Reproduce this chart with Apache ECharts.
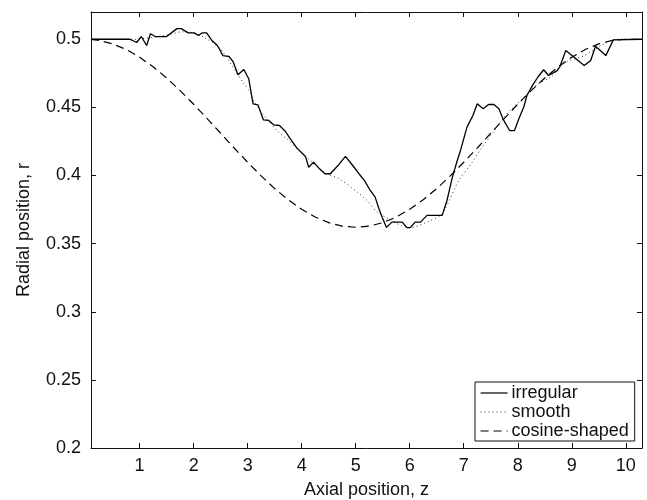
<!DOCTYPE html>
<html>
<head>
<meta charset="utf-8">
<title>Radial position vs axial position</title>
<script src="https://cdn.jsdelivr.net/npm/echarts@6/dist/echarts.min.js"></script>
<style>
  html, body { margin: 0; padding: 0; background: #fff; }
  #chart { width: 647px; height: 500px; }
</style>
</head>
<body>
<div id="chart"></div>
<script>
// Tick values for both axes
const xTicks = [1, 2, 3, 4, 5, 6, 7, 8, 9, 10];
const yTicks = [0.2, 0.25, 0.3, 0.35, 0.4, 0.45, 0.5];

// Irregular profile: axial position z and radius r
const zIrregular = [0.1, 0.82, 0.945, 1.03, 1.13, 1.2, 1.29, 1.5, 1.69, 1.77, 1.9, 2.01, 2.09, 2.16, 2.24,
  2.33, 2.42, 2.46, 2.54, 2.65, 2.73, 2.82, 2.93, 3.02, 3.10, 3.19, 3.29, 3.39, 3.48, 3.59, 3.70, 3.79,
  3.91, 4.07, 4.13, 4.22, 4.33, 4.43, 4.53, 4.69, 4.81, 4.96, 5.06, 5.16, 5.27, 5.36, 5.43, 5.49, 5.57,
  5.67, 5.86, 5.95, 6.01, 6.10, 6.20, 6.32, 6.60, 6.69, 6.79, 6.88, 6.94, 7.06, 7.17, 7.25, 7.36, 7.46,
  7.56, 7.65, 7.74, 7.85, 7.94, 8.02, 8.11, 8.17, 8.27, 8.37, 8.48, 8.57, 8.73, 8.78, 8.89, 9.23, 9.35,
  9.44, 9.63, 9.77, 10.3];
const rIrregular = [0.5, 0.5, 0.4976, 0.502, 0.4954, 0.504, 0.502, 0.502, 0.5078, 0.5078, 0.5047, 0.5047, 0.5027, 0.5047, 0.5047,
  0.4995, 0.4962, 0.4941, 0.488, 0.4875, 0.4836, 0.4739, 0.4778, 0.471, 0.4526, 0.4519, 0.4409, 0.4404, 0.4372, 0.4367, 0.4323, 0.4269,
  0.4203, 0.414, 0.4061, 0.4098, 0.4049, 0.4013, 0.4013, 0.4081, 0.414, 0.4066, 0.4013, 0.3964, 0.389, 0.3841, 0.3756, 0.3694, 0.3619,
  0.3658, 0.3658, 0.3617, 0.3617, 0.3658, 0.3658, 0.3707, 0.3707, 0.3817, 0.3988, 0.411, 0.4184, 0.4355, 0.444, 0.4526, 0.449, 0.4521,
  0.4521, 0.449, 0.4404, 0.433, 0.433, 0.4416, 0.4501, 0.4587, 0.466, 0.4721, 0.4776, 0.4734, 0.477, 0.480, 0.4917, 0.4807, 0.4844,
  0.4949, 0.488, 0.4996, 0.5];

// Smooth profile
const zSmooth = [0.1, 0.9, 1.2, 1.5, 1.8, 2.0, 2.19, 2.49, 2.71, 2.93, 3.05, 3.11, 3.33, 3.57, 3.76, 3.95, 4.16,
  4.41, 4.69, 5.03, 5.21, 5.40, 5.61, 5.83, 6.01, 6.32, 6.57, 6.66, 6.91, 7.16, 7.31, 7.55, 7.80, 8.05,
  8.20, 8.36, 8.60, 8.89, 9.23, 9.6, 9.84, 10.3];
const rSmooth = [0.5, 0.5, 0.5012, 0.503, 0.5055, 0.5045, 0.5015, 0.493, 0.4807, 0.4673, 0.461, 0.455, 0.4428, 0.4318, 0.4257, 0.418, 0.411,
  0.4025, 0.3976, 0.3878, 0.3817, 0.373, 0.3683, 0.3634, 0.3617, 0.3658, 0.3707, 0.3756, 0.3964, 0.4098, 0.419, 0.432, 0.4453, 0.455,
  0.4611, 0.4668, 0.4721, 0.4831, 0.488, 0.4966, 0.5, 0.5];

// Cosine-shaped profile
const zCosine = [0.1, 0.25, 0.5, 0.75, 1.0, 1.25, 1.5, 1.75, 2.0, 2.25, 2.5, 2.75, 3.0, 3.25, 3.5, 3.75, 4.0,
  4.25, 4.5, 4.75, 5.0, 5.25, 5.5, 5.75, 6.0, 6.25, 6.5, 6.75, 7.0, 7.25, 7.5, 7.75, 8.0, 8.25, 8.5,
  8.75, 9.0, 9.25, 9.5, 9.75, 10.0, 10.3];
const rCosine = [0.4999, 0.4992, 0.4966, 0.4925, 0.4868, 0.4798, 0.4716, 0.4623, 0.4523, 0.4418, 0.431, 0.4202, 0.4097, 0.3997, 0.3904, 0.3822, 0.3752,
  0.3695, 0.3654, 0.3628, 0.362, 0.3628, 0.3654, 0.3695, 0.3752, 0.3822, 0.3904, 0.3997, 0.4097, 0.4202, 0.431, 0.4418, 0.4523, 0.4623, 0.4716,
  0.4798, 0.4868, 0.4925, 0.4966, 0.4992, 0.5, 0.5];

const pairs = (xs, ys) => xs.map((x, i) => [x, ys[i]]);

const FONT = 'Liberation Sans, Arial, Helvetica, sans-serif';
const INK = '#111';

const chart = echarts.init(document.getElementById('chart'), null, { renderer: 'canvas' });

const xBase = {
  type: 'value', min: 0.1, max: 10.3,
  splitLine: { show: false },
  axisLine: { show: true, onZero: false, lineStyle: { color: INK, width: 1 } },
  axisTick: { show: true, inside: true, length: 5, customValues: xTicks, lineStyle: { color: INK, width: 1 } }
};
const yBase = {
  type: 'value', min: 0.2, max: 0.52,
  splitLine: { show: false },
  axisLine: { show: true, onZero: false, lineStyle: { color: INK, width: 1 } },
  axisTick: { show: true, inside: true, length: 5, customValues: yTicks, lineStyle: { color: INK, width: 1 } }
};

chart.setOption({
  animation: false,
  backgroundColor: '#fff',
  textStyle: { fontFamily: FONT },
  grid: { left: 91, right: 5, top: 12, bottom: 52, containLabel: false, outerBoundsMode: 'none' },
  xAxis: [
    Object.assign({}, xBase, {
      position: 'bottom',
      name: 'Axial position, z', nameLocation: 'middle', nameGap: 33,
      nameTextStyle: { color: INK, fontSize: 18, fontFamily: FONT },
      axisLabel: { show: true, customValues: xTicks, margin: 9, color: INK, fontSize: 18, fontFamily: FONT }
    }),
    Object.assign({}, xBase, { position: 'top', axisLabel: { show: false } })
  ],
  yAxis: [
    Object.assign({}, yBase, {
      position: 'left',
      name: 'Radial position, r', nameLocation: 'middle', nameGap: 58,
      nameTextStyle: { color: INK, fontSize: 18, fontFamily: FONT },
      axisLabel: { show: true, customValues: yTicks, margin: 10, color: INK, fontSize: 18, fontFamily: FONT }
    }),
    Object.assign({}, yBase, { position: 'right', axisLabel: { show: false } })
  ],
  legend: {
    show: true,
    orient: 'vertical',
    left: 475, top: 382,
    padding: [2, 6, 1, 5],
    itemGap: 1,
    itemWidth: 27, itemHeight: 14,
    backgroundColor: '#fff',
    borderColor: INK, borderWidth: 1, borderRadius: 0,
    itemStyle: { color: 'rgba(0,0,0,0)', borderWidth: 0 },
    lineStyle: { width: 1.2 },
    textStyle: { color: INK, fontSize: 18, fontFamily: FONT, padding: [0, 0, 0, -1] },
    data: ['irregular', 'smooth', 'cosine-shaped']
  },
  series: [
    {
      name: 'irregular', type: 'line', data: pairs(zIrregular, rIrregular),
      symbol: 'none', showSymbol: false, smooth: false,
      lineStyle: { color: '#000', width: 1.3, type: 'solid' },
      itemStyle: { color: '#000' }, z: 5
    },
    {
      name: 'smooth', type: 'line', data: pairs(zSmooth, rSmooth),
      symbol: 'none', showSymbol: false, smooth: 0.3,
      lineStyle: { color: '#333', width: 1, type: [1, 3] },
      itemStyle: { color: '#333' }, z: 4
    },
    {
      name: 'cosine-shaped', type: 'line', data: pairs(zCosine, rCosine),
      symbol: 'none', showSymbol: false, smooth: false,
      lineStyle: { color: '#000', width: 1.2, type: [8, 5] },
      itemStyle: { color: '#000' }, z: 3
    }
  ]
});
</script>
</body>
</html>
